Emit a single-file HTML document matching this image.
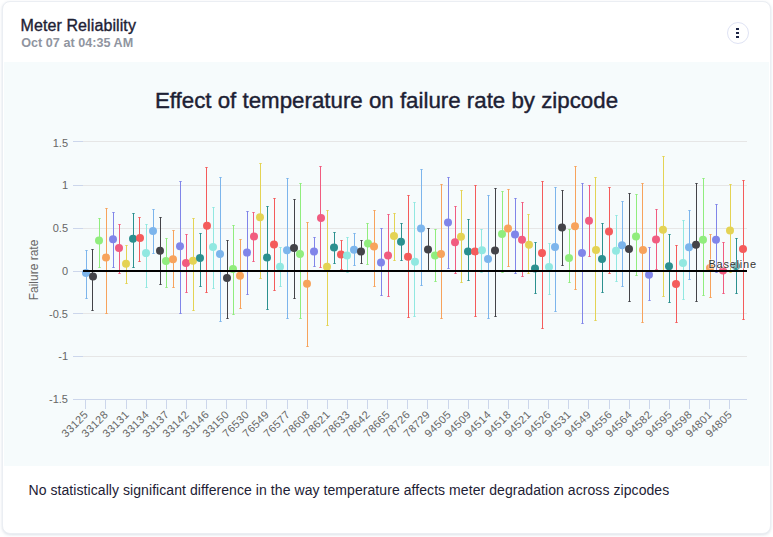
<!DOCTYPE html>
<html><head><meta charset="utf-8"><title>Meter Reliability</title>
<style>
html,body{margin:0;padding:0;background:#ffffff;}
body{width:773px;height:537px;position:relative;overflow:hidden;font-family:"Liberation Sans",sans-serif;}
.card{position:absolute;left:2px;top:1px;width:767px;height:531px;background:#fff;border:1px solid #ebeef3;border-radius:8px;box-shadow:0 1px 3px rgba(130,150,175,0.28);}
.chartbg{position:absolute;left:4px;top:62px;width:765px;height:404px;background:#f6fbfc;}
.h1{position:absolute;left:20.5px;top:15.7px;font-size:16px;line-height:20px;letter-spacing:0.1px;color:#1d2134;-webkit-text-stroke:0.35px #1d2134;white-space:nowrap;}
.h2{position:absolute;left:21.2px;top:35.2px;font-size:12.6px;line-height:16px;letter-spacing:0.03px;font-weight:bold;color:#9095a0;white-space:nowrap;}
.menu{position:absolute;left:727px;top:22px;width:20px;height:20px;border:1px solid #dfe3f4;border-radius:50%;background:#fff;}
.menu i{position:absolute;left:8.2px;width:2.8px;height:2.3px;background:#1c2445;}
.title{position:absolute;left:0;width:773px;top:88.2px;text-align:center;font-size:22.3px;line-height:26px;color:#1d2134;-webkit-text-stroke:0.4px #1d2134;white-space:nowrap;}
.foot{position:absolute;left:28.5px;top:482px;font-size:14px;line-height:16px;letter-spacing:0.068px;color:#1d2134;white-space:nowrap;}
</style></head><body>
<div class="card"></div>
<div class="chartbg"></div>
<div class="h1" id="h1">Meter Reliability</div>
<div class="h2" id="h2">Oct 07 at 04:35 AM</div>
<div class="menu"><i style="top:4.8px"></i><i style="top:8.8px"></i><i style="top:12.8px"></i></div>
<div class="title"><span id="title">Effect of temperature on failure rate by zipcode</span></div>
<svg width="773" height="537" viewBox="0 0 773 537" style="position:absolute;left:0;top:0">
<path d="M83 141.5H747" stroke="#e6e6e6" stroke-width="1" fill="none"/>
<path d="M73 141.5H83" stroke="#ccd6eb" stroke-width="1" fill="none"/>
<path d="M83 185.5H747" stroke="#e6e6e6" stroke-width="1" fill="none"/>
<path d="M73 185.5H83" stroke="#ccd6eb" stroke-width="1" fill="none"/>
<path d="M83 228.5H747" stroke="#e6e6e6" stroke-width="1" fill="none"/>
<path d="M73 228.5H83" stroke="#ccd6eb" stroke-width="1" fill="none"/>
<path d="M83 271.5H747" stroke="#e6e6e6" stroke-width="1" fill="none"/>
<path d="M73 271.5H83" stroke="#ccd6eb" stroke-width="1" fill="none"/>
<path d="M83 313.5H747" stroke="#e6e6e6" stroke-width="1" fill="none"/>
<path d="M73 313.5H83" stroke="#ccd6eb" stroke-width="1" fill="none"/>
<path d="M83 356.5H747" stroke="#e6e6e6" stroke-width="1" fill="none"/>
<path d="M73 356.5H83" stroke="#ccd6eb" stroke-width="1" fill="none"/>
<path d="M73 399.5H747" stroke="#ccd6eb" stroke-width="1" fill="none"/>
<path d="M85.5 400V409" stroke="#ccd6eb" stroke-width="1" fill="none"/>
<path d="M105.5 400V409" stroke="#ccd6eb" stroke-width="1" fill="none"/>
<path d="M126.5 400V409" stroke="#ccd6eb" stroke-width="1" fill="none"/>
<path d="M146.5 400V409" stroke="#ccd6eb" stroke-width="1" fill="none"/>
<path d="M166.5 400V409" stroke="#ccd6eb" stroke-width="1" fill="none"/>
<path d="M186.5 400V409" stroke="#ccd6eb" stroke-width="1" fill="none"/>
<path d="M206.5 400V409" stroke="#ccd6eb" stroke-width="1" fill="none"/>
<path d="M226.5 400V409" stroke="#ccd6eb" stroke-width="1" fill="none"/>
<path d="M246.5 400V409" stroke="#ccd6eb" stroke-width="1" fill="none"/>
<path d="M266.5 400V409" stroke="#ccd6eb" stroke-width="1" fill="none"/>
<path d="M287.5 400V409" stroke="#ccd6eb" stroke-width="1" fill="none"/>
<path d="M307.5 400V409" stroke="#ccd6eb" stroke-width="1" fill="none"/>
<path d="M327.5 400V409" stroke="#ccd6eb" stroke-width="1" fill="none"/>
<path d="M347.5 400V409" stroke="#ccd6eb" stroke-width="1" fill="none"/>
<path d="M367.5 400V409" stroke="#ccd6eb" stroke-width="1" fill="none"/>
<path d="M387.5 400V409" stroke="#ccd6eb" stroke-width="1" fill="none"/>
<path d="M407.5 400V409" stroke="#ccd6eb" stroke-width="1" fill="none"/>
<path d="M427.5 400V409" stroke="#ccd6eb" stroke-width="1" fill="none"/>
<path d="M448.5 400V409" stroke="#ccd6eb" stroke-width="1" fill="none"/>
<path d="M468.5 400V409" stroke="#ccd6eb" stroke-width="1" fill="none"/>
<path d="M488.5 400V409" stroke="#ccd6eb" stroke-width="1" fill="none"/>
<path d="M508.5 400V409" stroke="#ccd6eb" stroke-width="1" fill="none"/>
<path d="M528.5 400V409" stroke="#ccd6eb" stroke-width="1" fill="none"/>
<path d="M548.5 400V409" stroke="#ccd6eb" stroke-width="1" fill="none"/>
<path d="M568.5 400V409" stroke="#ccd6eb" stroke-width="1" fill="none"/>
<path d="M588.5 400V409" stroke="#ccd6eb" stroke-width="1" fill="none"/>
<path d="M609.5 400V409" stroke="#ccd6eb" stroke-width="1" fill="none"/>
<path d="M629.5 400V409" stroke="#ccd6eb" stroke-width="1" fill="none"/>
<path d="M649.5 400V409" stroke="#ccd6eb" stroke-width="1" fill="none"/>
<path d="M669.5 400V409" stroke="#ccd6eb" stroke-width="1" fill="none"/>
<path d="M689.5 400V409" stroke="#ccd6eb" stroke-width="1" fill="none"/>
<path d="M709.5 400V409" stroke="#ccd6eb" stroke-width="1" fill="none"/>
<path d="M729.5 400V409" stroke="#ccd6eb" stroke-width="1" fill="none"/>
<g font-family="Liberation Sans, sans-serif" font-size="11" fill="#666666" text-anchor="end">
<text x="68" y="146.7">1.5</text>
<text x="68" y="189.0">1</text>
<text x="68" y="231.8">0.5</text>
<text x="68" y="274.7">0</text>
<text x="68" y="317.5">-0.5</text>
<text x="68" y="360.3">-1</text>
<text x="68" y="403.2">-1.5</text>
</g>
<g font-family="Liberation Sans, sans-serif" font-size="11" fill="#666666" text-anchor="end" letter-spacing="0.3">
<text x="88.8" y="415.3" transform="rotate(-45 88.8 415.3)">33125</text>
<text x="108.8" y="415.3" transform="rotate(-45 108.8 415.3)">33128</text>
<text x="129.8" y="415.3" transform="rotate(-45 129.8 415.3)">33131</text>
<text x="149.8" y="415.3" transform="rotate(-45 149.8 415.3)">33134</text>
<text x="169.8" y="415.3" transform="rotate(-45 169.8 415.3)">33137</text>
<text x="189.8" y="415.3" transform="rotate(-45 189.8 415.3)">33142</text>
<text x="209.8" y="415.3" transform="rotate(-45 209.8 415.3)">33146</text>
<text x="229.8" y="415.3" transform="rotate(-45 229.8 415.3)">33150</text>
<text x="249.8" y="415.3" transform="rotate(-45 249.8 415.3)">76530</text>
<text x="269.8" y="415.3" transform="rotate(-45 269.8 415.3)">76549</text>
<text x="290.8" y="415.3" transform="rotate(-45 290.8 415.3)">76577</text>
<text x="310.8" y="415.3" transform="rotate(-45 310.8 415.3)">78608</text>
<text x="330.8" y="415.3" transform="rotate(-45 330.8 415.3)">78621</text>
<text x="350.8" y="415.3" transform="rotate(-45 350.8 415.3)">78633</text>
<text x="370.8" y="415.3" transform="rotate(-45 370.8 415.3)">78642</text>
<text x="390.8" y="415.3" transform="rotate(-45 390.8 415.3)">78665</text>
<text x="410.8" y="415.3" transform="rotate(-45 410.8 415.3)">78726</text>
<text x="430.8" y="415.3" transform="rotate(-45 430.8 415.3)">78729</text>
<text x="451.8" y="415.3" transform="rotate(-45 451.8 415.3)">94505</text>
<text x="471.8" y="415.3" transform="rotate(-45 471.8 415.3)">94509</text>
<text x="491.8" y="415.3" transform="rotate(-45 491.8 415.3)">94514</text>
<text x="511.8" y="415.3" transform="rotate(-45 511.8 415.3)">94518</text>
<text x="531.8" y="415.3" transform="rotate(-45 531.8 415.3)">94521</text>
<text x="551.8" y="415.3" transform="rotate(-45 551.8 415.3)">94526</text>
<text x="571.8" y="415.3" transform="rotate(-45 571.8 415.3)">94531</text>
<text x="591.8" y="415.3" transform="rotate(-45 591.8 415.3)">94549</text>
<text x="612.8" y="415.3" transform="rotate(-45 612.8 415.3)">94556</text>
<text x="632.8" y="415.3" transform="rotate(-45 632.8 415.3)">94564</text>
<text x="652.8" y="415.3" transform="rotate(-45 652.8 415.3)">94582</text>
<text x="672.8" y="415.3" transform="rotate(-45 672.8 415.3)">94595</text>
<text x="692.8" y="415.3" transform="rotate(-45 692.8 415.3)">94598</text>
<text x="712.8" y="415.3" transform="rotate(-45 712.8 415.3)">94801</text>
<text x="732.8" y="415.3" transform="rotate(-45 732.8 415.3)">94805</text>
</g>
<text x="37.5" y="270" transform="rotate(-90 37.5 270)" text-anchor="middle" font-family="Liberation Sans, sans-serif" font-size="12" fill="#666666">Failure rate</text>
<g shape-rendering="crispEdges" fill="none" stroke-width="1">
<path d="M86.5 250.5V298.5" stroke="#7cb5ec"/>
<path d="M92.5 249.5V310.5" stroke="#434348"/>
<path d="M99.5 218.5V267.5" stroke="#90ed7d"/>
<path d="M106.5 208.5V313.5" stroke="#f7a35c"/>
<path d="M113.5 212.5V267.5" stroke="#8085e9"/>
<path d="M119.5 224.5V273.5" stroke="#f15c80"/>
<path d="M126.5 245.5V283.5" stroke="#e4d354"/>
<path d="M133.5 213.5V267.5" stroke="#2b908f"/>
<path d="M139.5 217.5V261.5" stroke="#f45b5b"/>
<path d="M146.5 224.5V287.5" stroke="#91e8e1"/>
<path d="M153.5 209.5V253.5" stroke="#7cb5ec"/>
<path d="M160.5 217.5V284.5" stroke="#434348"/>
<path d="M166.5 238.5V287.5" stroke="#90ed7d"/>
<path d="M173.5 230.5V287.5" stroke="#f7a35c"/>
<path d="M180.5 181.5V313.5" stroke="#8085e9"/>
<path d="M186.5 234.5V292.5" stroke="#f15c80"/>
<path d="M193.5 218.5V310.5" stroke="#e4d354"/>
<path d="M200.5 233.5V286.5" stroke="#2b908f"/>
<path d="M206.5 167.5V292.5" stroke="#f45b5b"/>
<path d="M213.5 207.5V288.5" stroke="#91e8e1"/>
<path d="M220.5 177.5V321.5" stroke="#7cb5ec"/>
<path d="M227.5 240.5V318.5" stroke="#434348"/>
<path d="M233.5 225.5V314.5" stroke="#90ed7d"/>
<path d="M240.5 239.5V308.5" stroke="#f7a35c"/>
<path d="M247.5 211.5V294.5" stroke="#8085e9"/>
<path d="M253.5 212.5V261.5" stroke="#f15c80"/>
<path d="M260.5 163.5V278.5" stroke="#e4d354"/>
<path d="M267.5 206.5V309.5" stroke="#2b908f"/>
<path d="M274.5 198.5V290.5" stroke="#f45b5b"/>
<path d="M280.5 247.5V286.5" stroke="#91e8e1"/>
<path d="M287.5 178.5V318.5" stroke="#7cb5ec"/>
<path d="M294.5 199.5V298.5" stroke="#434348"/>
<path d="M300.5 183.5V318.5" stroke="#90ed7d"/>
<path d="M307.5 222.5V346.5" stroke="#f7a35c"/>
<path d="M314.5 237.5V266.5" stroke="#8085e9"/>
<path d="M320.5 166.5V267.5" stroke="#f15c80"/>
<path d="M327.5 210.5V325.5" stroke="#e4d354"/>
<path d="M334.5 232.5V263.5" stroke="#2b908f"/>
<path d="M341.5 240.5V269.5" stroke="#f45b5b"/>
<path d="M347.5 237.5V272.5" stroke="#91e8e1"/>
<path d="M354.5 233.5V265.5" stroke="#7cb5ec"/>
<path d="M361.5 240.5V263.5" stroke="#434348"/>
<path d="M367.5 223.5V264.5" stroke="#90ed7d"/>
<path d="M374.5 210.5V286.5" stroke="#f7a35c"/>
<path d="M381.5 228.5V295.5" stroke="#8085e9"/>
<path d="M388.5 214.5V296.5" stroke="#f15c80"/>
<path d="M394.5 213.5V260.5" stroke="#e4d354"/>
<path d="M401.5 223.5V260.5" stroke="#2b908f"/>
<path d="M408.5 195.5V317.5" stroke="#f45b5b"/>
<path d="M414.5 202.5V316.5" stroke="#91e8e1"/>
<path d="M421.5 169.5V285.5" stroke="#7cb5ec"/>
<path d="M428.5 228.5V270.5" stroke="#434348"/>
<path d="M435.5 229.5V281.5" stroke="#90ed7d"/>
<path d="M441.5 184.5V318.5" stroke="#f7a35c"/>
<path d="M448.5 177.5V268.5" stroke="#8085e9"/>
<path d="M455.5 206.5V273.5" stroke="#f15c80"/>
<path d="M461.5 190.5V282.5" stroke="#e4d354"/>
<path d="M468.5 219.5V280.5" stroke="#2b908f"/>
<path d="M475.5 185.5V316.5" stroke="#f45b5b"/>
<path d="M481.5 229.5V272.5" stroke="#91e8e1"/>
<path d="M488.5 195.5V318.5" stroke="#7cb5ec"/>
<path d="M495.5 188.5V316.5" stroke="#434348"/>
<path d="M502.5 191.5V272.5" stroke="#90ed7d"/>
<path d="M508.5 189.5V266.5" stroke="#f7a35c"/>
<path d="M515.5 198.5V273.5" stroke="#8085e9"/>
<path d="M522.5 202.5V276.5" stroke="#f15c80"/>
<path d="M528.5 214.5V273.5" stroke="#e4d354"/>
<path d="M535.5 242.5V293.5" stroke="#2b908f"/>
<path d="M542.5 181.5V328.5" stroke="#f45b5b"/>
<path d="M549.5 243.5V294.5" stroke="#91e8e1"/>
<path d="M555.5 187.5V311.5" stroke="#7cb5ec"/>
<path d="M562.5 190.5V265.5" stroke="#434348"/>
<path d="M569.5 229.5V282.5" stroke="#90ed7d"/>
<path d="M575.5 166.5V289.5" stroke="#f7a35c"/>
<path d="M582.5 183.5V323.5" stroke="#8085e9"/>
<path d="M589.5 185.5V256.5" stroke="#f15c80"/>
<path d="M595.5 177.5V320.5" stroke="#e4d354"/>
<path d="M602.5 223.5V292.5" stroke="#2b908f"/>
<path d="M609.5 187.5V273.5" stroke="#f45b5b"/>
<path d="M616.5 215.5V281.5" stroke="#91e8e1"/>
<path d="M622.5 201.5V286.5" stroke="#7cb5ec"/>
<path d="M629.5 193.5V301.5" stroke="#434348"/>
<path d="M636.5 194.5V275.5" stroke="#90ed7d"/>
<path d="M642.5 183.5V322.5" stroke="#f7a35c"/>
<path d="M649.5 247.5V300.5" stroke="#8085e9"/>
<path d="M656.5 209.5V269.5" stroke="#f15c80"/>
<path d="M663.5 156.5V296.5" stroke="#e4d354"/>
<path d="M669.5 234.5V302.5" stroke="#2b908f"/>
<path d="M676.5 245.5V322.5" stroke="#f45b5b"/>
<path d="M683.5 220.5V299.5" stroke="#91e8e1"/>
<path d="M689.5 210.5V279.5" stroke="#7cb5ec"/>
<path d="M696.5 183.5V301.5" stroke="#434348"/>
<path d="M703.5 178.5V295.5" stroke="#90ed7d"/>
<path d="M710.5 234.5V297.5" stroke="#f7a35c"/>
<path d="M716.5 204.5V272.5" stroke="#8085e9"/>
<path d="M723.5 242.5V293.5" stroke="#f15c80"/>
<path d="M730.5 184.5V272.5" stroke="#e4d354"/>
<path d="M736.5 238.5V293.5" stroke="#2b908f"/>
<path d="M743.5 180.5V319.5" stroke="#f45b5b"/>
</g>
<g fill="none" stroke-width="1">
<path d="M85.35 250.5H87.65M85.35 298.5H87.65" stroke="#7cb5ec"/>
<path d="M91.35 249.5H93.65M91.35 310.5H93.65" stroke="#434348"/>
<path d="M98.35 218.5H100.65M98.35 267.5H100.65" stroke="#90ed7d"/>
<path d="M105.35 208.5H107.65M105.35 313.5H107.65" stroke="#f7a35c"/>
<path d="M112.35 212.5H114.65M112.35 267.5H114.65" stroke="#8085e9"/>
<path d="M118.35 224.5H120.65M118.35 273.5H120.65" stroke="#f15c80"/>
<path d="M125.35 245.5H127.65M125.35 283.5H127.65" stroke="#e4d354"/>
<path d="M132.35 213.5H134.65M132.35 267.5H134.65" stroke="#2b908f"/>
<path d="M138.35 217.5H140.65M138.35 261.5H140.65" stroke="#f45b5b"/>
<path d="M145.35 224.5H147.65M145.35 287.5H147.65" stroke="#91e8e1"/>
<path d="M152.35 209.5H154.65M152.35 253.5H154.65" stroke="#7cb5ec"/>
<path d="M159.35 217.5H161.65M159.35 284.5H161.65" stroke="#434348"/>
<path d="M165.35 238.5H167.65M165.35 287.5H167.65" stroke="#90ed7d"/>
<path d="M172.35 230.5H174.65M172.35 287.5H174.65" stroke="#f7a35c"/>
<path d="M179.35 181.5H181.65M179.35 313.5H181.65" stroke="#8085e9"/>
<path d="M185.35 234.5H187.65M185.35 292.5H187.65" stroke="#f15c80"/>
<path d="M192.35 218.5H194.65M192.35 310.5H194.65" stroke="#e4d354"/>
<path d="M199.35 233.5H201.65M199.35 286.5H201.65" stroke="#2b908f"/>
<path d="M205.35 167.5H207.65M205.35 292.5H207.65" stroke="#f45b5b"/>
<path d="M212.35 207.5H214.65M212.35 288.5H214.65" stroke="#91e8e1"/>
<path d="M219.35 177.5H221.65M219.35 321.5H221.65" stroke="#7cb5ec"/>
<path d="M226.35 240.5H228.65M226.35 318.5H228.65" stroke="#434348"/>
<path d="M232.35 225.5H234.65M232.35 314.5H234.65" stroke="#90ed7d"/>
<path d="M239.35 239.5H241.65M239.35 308.5H241.65" stroke="#f7a35c"/>
<path d="M246.35 211.5H248.65M246.35 294.5H248.65" stroke="#8085e9"/>
<path d="M252.35 212.5H254.65M252.35 261.5H254.65" stroke="#f15c80"/>
<path d="M259.35 163.5H261.65M259.35 278.5H261.65" stroke="#e4d354"/>
<path d="M266.35 206.5H268.65M266.35 309.5H268.65" stroke="#2b908f"/>
<path d="M273.35 198.5H275.65M273.35 290.5H275.65" stroke="#f45b5b"/>
<path d="M279.35 247.5H281.65M279.35 286.5H281.65" stroke="#91e8e1"/>
<path d="M286.35 178.5H288.65M286.35 318.5H288.65" stroke="#7cb5ec"/>
<path d="M293.35 199.5H295.65M293.35 298.5H295.65" stroke="#434348"/>
<path d="M299.35 183.5H301.65M299.35 318.5H301.65" stroke="#90ed7d"/>
<path d="M306.35 222.5H308.65M306.35 346.5H308.65" stroke="#f7a35c"/>
<path d="M313.35 237.5H315.65M313.35 266.5H315.65" stroke="#8085e9"/>
<path d="M319.35 166.5H321.65M319.35 267.5H321.65" stroke="#f15c80"/>
<path d="M326.35 210.5H328.65M326.35 325.5H328.65" stroke="#e4d354"/>
<path d="M333.35 232.5H335.65M333.35 263.5H335.65" stroke="#2b908f"/>
<path d="M340.35 240.5H342.65M340.35 269.5H342.65" stroke="#f45b5b"/>
<path d="M346.35 237.5H348.65M346.35 272.5H348.65" stroke="#91e8e1"/>
<path d="M353.35 233.5H355.65M353.35 265.5H355.65" stroke="#7cb5ec"/>
<path d="M360.35 240.5H362.65M360.35 263.5H362.65" stroke="#434348"/>
<path d="M366.35 223.5H368.65M366.35 264.5H368.65" stroke="#90ed7d"/>
<path d="M373.35 210.5H375.65M373.35 286.5H375.65" stroke="#f7a35c"/>
<path d="M380.35 228.5H382.65M380.35 295.5H382.65" stroke="#8085e9"/>
<path d="M387.35 214.5H389.65M387.35 296.5H389.65" stroke="#f15c80"/>
<path d="M393.35 213.5H395.65M393.35 260.5H395.65" stroke="#e4d354"/>
<path d="M400.35 223.5H402.65M400.35 260.5H402.65" stroke="#2b908f"/>
<path d="M407.35 195.5H409.65M407.35 317.5H409.65" stroke="#f45b5b"/>
<path d="M413.35 202.5H415.65M413.35 316.5H415.65" stroke="#91e8e1"/>
<path d="M420.35 169.5H422.65M420.35 285.5H422.65" stroke="#7cb5ec"/>
<path d="M427.35 228.5H429.65M427.35 270.5H429.65" stroke="#434348"/>
<path d="M434.35 229.5H436.65M434.35 281.5H436.65" stroke="#90ed7d"/>
<path d="M440.35 184.5H442.65M440.35 318.5H442.65" stroke="#f7a35c"/>
<path d="M447.35 177.5H449.65M447.35 268.5H449.65" stroke="#8085e9"/>
<path d="M454.35 206.5H456.65M454.35 273.5H456.65" stroke="#f15c80"/>
<path d="M460.35 190.5H462.65M460.35 282.5H462.65" stroke="#e4d354"/>
<path d="M467.35 219.5H469.65M467.35 280.5H469.65" stroke="#2b908f"/>
<path d="M474.35 185.5H476.65M474.35 316.5H476.65" stroke="#f45b5b"/>
<path d="M480.35 229.5H482.65M480.35 272.5H482.65" stroke="#91e8e1"/>
<path d="M487.35 195.5H489.65M487.35 318.5H489.65" stroke="#7cb5ec"/>
<path d="M494.35 188.5H496.65M494.35 316.5H496.65" stroke="#434348"/>
<path d="M501.35 191.5H503.65M501.35 272.5H503.65" stroke="#90ed7d"/>
<path d="M507.35 189.5H509.65M507.35 266.5H509.65" stroke="#f7a35c"/>
<path d="M514.35 198.5H516.65M514.35 273.5H516.65" stroke="#8085e9"/>
<path d="M521.35 202.5H523.65M521.35 276.5H523.65" stroke="#f15c80"/>
<path d="M527.35 214.5H529.65M527.35 273.5H529.65" stroke="#e4d354"/>
<path d="M534.35 242.5H536.65M534.35 293.5H536.65" stroke="#2b908f"/>
<path d="M541.35 181.5H543.65M541.35 328.5H543.65" stroke="#f45b5b"/>
<path d="M548.35 243.5H550.65M548.35 294.5H550.65" stroke="#91e8e1"/>
<path d="M554.35 187.5H556.65M554.35 311.5H556.65" stroke="#7cb5ec"/>
<path d="M561.35 190.5H563.65M561.35 265.5H563.65" stroke="#434348"/>
<path d="M568.35 229.5H570.65M568.35 282.5H570.65" stroke="#90ed7d"/>
<path d="M574.35 166.5H576.65M574.35 289.5H576.65" stroke="#f7a35c"/>
<path d="M581.35 183.5H583.65M581.35 323.5H583.65" stroke="#8085e9"/>
<path d="M588.35 185.5H590.65M588.35 256.5H590.65" stroke="#f15c80"/>
<path d="M594.35 177.5H596.65M594.35 320.5H596.65" stroke="#e4d354"/>
<path d="M601.35 223.5H603.65M601.35 292.5H603.65" stroke="#2b908f"/>
<path d="M608.35 187.5H610.65M608.35 273.5H610.65" stroke="#f45b5b"/>
<path d="M615.35 215.5H617.65M615.35 281.5H617.65" stroke="#91e8e1"/>
<path d="M621.35 201.5H623.65M621.35 286.5H623.65" stroke="#7cb5ec"/>
<path d="M628.35 193.5H630.65M628.35 301.5H630.65" stroke="#434348"/>
<path d="M635.35 194.5H637.65M635.35 275.5H637.65" stroke="#90ed7d"/>
<path d="M641.35 183.5H643.65M641.35 322.5H643.65" stroke="#f7a35c"/>
<path d="M648.35 247.5H650.65M648.35 300.5H650.65" stroke="#8085e9"/>
<path d="M655.35 209.5H657.65M655.35 269.5H657.65" stroke="#f15c80"/>
<path d="M662.35 156.5H664.65M662.35 296.5H664.65" stroke="#e4d354"/>
<path d="M668.35 234.5H670.65M668.35 302.5H670.65" stroke="#2b908f"/>
<path d="M675.35 245.5H677.65M675.35 322.5H677.65" stroke="#f45b5b"/>
<path d="M682.35 220.5H684.65M682.35 299.5H684.65" stroke="#91e8e1"/>
<path d="M688.35 210.5H690.65M688.35 279.5H690.65" stroke="#7cb5ec"/>
<path d="M695.35 183.5H697.65M695.35 301.5H697.65" stroke="#434348"/>
<path d="M702.35 178.5H704.65M702.35 295.5H704.65" stroke="#90ed7d"/>
<path d="M709.35 234.5H711.65M709.35 297.5H711.65" stroke="#f7a35c"/>
<path d="M715.35 204.5H717.65M715.35 272.5H717.65" stroke="#8085e9"/>
<path d="M722.35 242.5H724.65M722.35 293.5H724.65" stroke="#f15c80"/>
<path d="M729.35 184.5H731.65M729.35 272.5H731.65" stroke="#e4d354"/>
<path d="M735.35 238.5H737.65M735.35 293.5H737.65" stroke="#2b908f"/>
<path d="M742.35 180.5H744.65M742.35 319.5H744.65" stroke="#f45b5b"/>
</g>
<circle cx="86" cy="272.9" r="4" fill="#7cb5ec"/>
<circle cx="93" cy="276.6" r="4" fill="#434348"/>
<circle cx="99" cy="240.6" r="4" fill="#90ed7d"/>
<circle cx="106" cy="257.6" r="4" fill="#f7a35c"/>
<circle cx="113" cy="239.3" r="4" fill="#8085e9"/>
<circle cx="119" cy="248.0" r="4" fill="#f15c80"/>
<circle cx="126" cy="263.7" r="4" fill="#e4d354"/>
<circle cx="133" cy="238.8" r="4" fill="#2b908f"/>
<circle cx="140" cy="238.1" r="4" fill="#f45b5b"/>
<circle cx="146" cy="253.1" r="4" fill="#91e8e1"/>
<circle cx="153" cy="231.1" r="4" fill="#7cb5ec"/>
<circle cx="160" cy="250.7" r="4" fill="#434348"/>
<circle cx="166" cy="261.0" r="4" fill="#90ed7d"/>
<circle cx="173" cy="259.3" r="4" fill="#f7a35c"/>
<circle cx="180" cy="246.2" r="4" fill="#8085e9"/>
<circle cx="186" cy="263.0" r="4" fill="#f15c80"/>
<circle cx="193" cy="260.8" r="4" fill="#e4d354"/>
<circle cx="200" cy="258.1" r="4" fill="#2b908f"/>
<circle cx="207" cy="225.8" r="4" fill="#f45b5b"/>
<circle cx="213" cy="246.9" r="4" fill="#91e8e1"/>
<circle cx="220" cy="254.1" r="4" fill="#7cb5ec"/>
<circle cx="227" cy="278.1" r="4" fill="#434348"/>
<circle cx="233" cy="269.1" r="4" fill="#90ed7d"/>
<circle cx="240" cy="275.8" r="4" fill="#f7a35c"/>
<circle cx="247" cy="252.6" r="4" fill="#8085e9"/>
<circle cx="254" cy="236.4" r="4" fill="#f15c80"/>
<circle cx="260" cy="217.2" r="4" fill="#e4d354"/>
<circle cx="267" cy="257.6" r="4" fill="#2b908f"/>
<circle cx="274" cy="244.5" r="4" fill="#f45b5b"/>
<circle cx="280" cy="266.7" r="4" fill="#91e8e1"/>
<circle cx="287" cy="250.2" r="4" fill="#7cb5ec"/>
<circle cx="294" cy="247.9" r="4" fill="#434348"/>
<circle cx="300" cy="253.9" r="4" fill="#90ed7d"/>
<circle cx="307" cy="283.7" r="4" fill="#f7a35c"/>
<circle cx="314" cy="251.6" r="4" fill="#8085e9"/>
<circle cx="321" cy="218.0" r="4" fill="#f15c80"/>
<circle cx="327" cy="266.7" r="4" fill="#e4d354"/>
<circle cx="334" cy="247.5" r="4" fill="#2b908f"/>
<circle cx="341" cy="254.6" r="4" fill="#f45b5b"/>
<circle cx="347" cy="255.6" r="4" fill="#91e8e1"/>
<circle cx="354" cy="249.7" r="4" fill="#7cb5ec"/>
<circle cx="361" cy="251.6" r="4" fill="#434348"/>
<circle cx="368" cy="243.5" r="4" fill="#90ed7d"/>
<circle cx="374" cy="246.5" r="4" fill="#f7a35c"/>
<circle cx="381" cy="262.5" r="4" fill="#8085e9"/>
<circle cx="388" cy="255.4" r="4" fill="#f15c80"/>
<circle cx="394" cy="236.1" r="4" fill="#e4d354"/>
<circle cx="401" cy="241.8" r="4" fill="#2b908f"/>
<circle cx="408" cy="256.8" r="4" fill="#f45b5b"/>
<circle cx="415" cy="261.7" r="4" fill="#91e8e1"/>
<circle cx="421" cy="228.4" r="4" fill="#7cb5ec"/>
<circle cx="428" cy="249.4" r="4" fill="#434348"/>
<circle cx="435" cy="255.6" r="4" fill="#90ed7d"/>
<circle cx="441" cy="253.9" r="4" fill="#f7a35c"/>
<circle cx="448" cy="222.4" r="4" fill="#8085e9"/>
<circle cx="455" cy="242.2" r="4" fill="#f15c80"/>
<circle cx="461" cy="236.8" r="4" fill="#e4d354"/>
<circle cx="468" cy="251.4" r="4" fill="#2b908f"/>
<circle cx="475" cy="251.4" r="4" fill="#f45b5b"/>
<circle cx="482" cy="250.2" r="4" fill="#91e8e1"/>
<circle cx="488" cy="259.0" r="4" fill="#7cb5ec"/>
<circle cx="495" cy="250.6" r="4" fill="#434348"/>
<circle cx="502" cy="233.9" r="4" fill="#90ed7d"/>
<circle cx="508" cy="228.4" r="4" fill="#f7a35c"/>
<circle cx="515" cy="234.4" r="4" fill="#8085e9"/>
<circle cx="522" cy="239.8" r="4" fill="#f15c80"/>
<circle cx="529" cy="244.8" r="4" fill="#e4d354"/>
<circle cx="535" cy="268.4" r="4" fill="#2b908f"/>
<circle cx="542" cy="253.1" r="4" fill="#f45b5b"/>
<circle cx="549" cy="267.0" r="4" fill="#91e8e1"/>
<circle cx="555" cy="246.9" r="4" fill="#7cb5ec"/>
<circle cx="562" cy="227.5" r="4" fill="#434348"/>
<circle cx="569" cy="258.1" r="4" fill="#90ed7d"/>
<circle cx="575" cy="226.2" r="4" fill="#f7a35c"/>
<circle cx="582" cy="252.9" r="4" fill="#8085e9"/>
<circle cx="589" cy="220.7" r="4" fill="#f15c80"/>
<circle cx="596" cy="249.9" r="4" fill="#e4d354"/>
<circle cx="602" cy="259.1" r="4" fill="#2b908f"/>
<circle cx="609" cy="231.4" r="4" fill="#f45b5b"/>
<circle cx="616" cy="250.7" r="4" fill="#91e8e1"/>
<circle cx="622" cy="245.2" r="4" fill="#7cb5ec"/>
<circle cx="629" cy="249.0" r="4" fill="#434348"/>
<circle cx="636" cy="236.4" r="4" fill="#90ed7d"/>
<circle cx="643" cy="249.9" r="4" fill="#f7a35c"/>
<circle cx="649" cy="274.8" r="4" fill="#8085e9"/>
<circle cx="656" cy="239.5" r="4" fill="#f15c80"/>
<circle cx="663" cy="229.7" r="4" fill="#e4d354"/>
<circle cx="669" cy="266.2" r="4" fill="#2b908f"/>
<circle cx="676" cy="283.9" r="4" fill="#f45b5b"/>
<circle cx="683" cy="263.0" r="4" fill="#91e8e1"/>
<circle cx="689" cy="247.2" r="4" fill="#7cb5ec"/>
<circle cx="696" cy="244.8" r="4" fill="#434348"/>
<circle cx="703" cy="239.8" r="4" fill="#90ed7d"/>
<circle cx="710" cy="268.1" r="4" fill="#f7a35c"/>
<circle cx="716" cy="239.8" r="4" fill="#8085e9"/>
<circle cx="723" cy="270.4" r="4" fill="#f15c80"/>
<circle cx="730" cy="230.4" r="4" fill="#e4d354"/>
<circle cx="736" cy="266.0" r="4" fill="#2b908f"/>
<circle cx="743" cy="249.0" r="4" fill="#f45b5b"/>
<path d="M83 271.0H747" stroke="#000000" stroke-width="2" fill="none"/>
<text x="708.5" y="267.5" font-family="Liberation Sans, sans-serif" font-size="11" fill="#333333" stroke="#ffffff" stroke-opacity="0.75" stroke-width="1" stroke-linejoin="round" paint-order="stroke" textLength="47.5" lengthAdjust="spacing">Baseline</text>
</svg>
<div class="foot" id="foot">No statistically significant difference in the way temperature affects meter degradation across zipcodes</div>
</body></html>
